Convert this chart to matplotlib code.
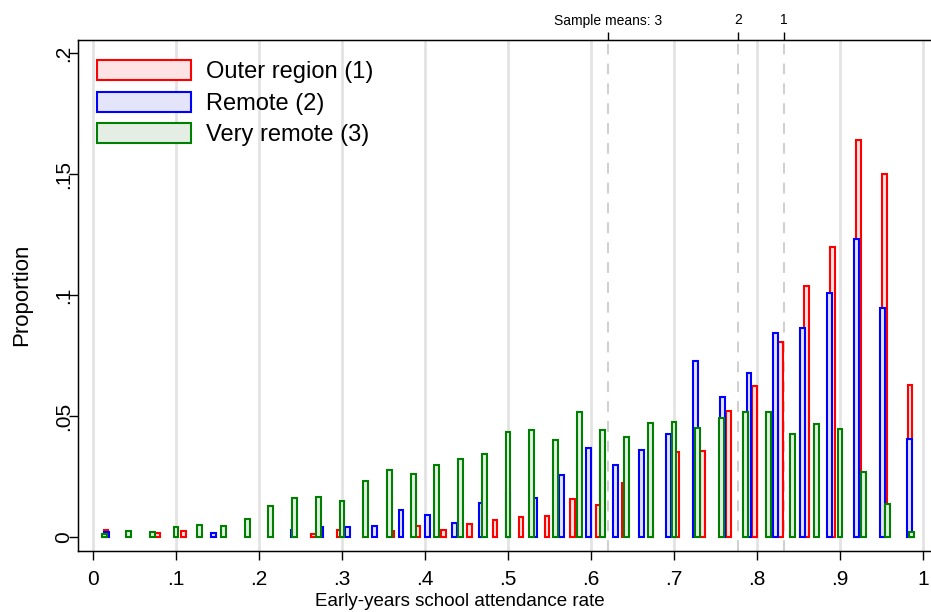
import numpy as np
import matplotlib
matplotlib.use("Agg")
import matplotlib.pyplot as plt
from matplotlib.patches import Patch

plt.rcParams['font.family'] = ['Liberation Sans', 'DejaVu Sans']

# ---- data (proportions per bin, bins spanning [0, 1]) ----
series_names = ["Outer region (1)", "Remote (2)", "Very remote (3)"]

outer_props = [0.0029, 0.0, 0.0015, 0.0023, 0.0, 0.0, 0.0, 0.0,
               0.0012, 0.0029, 0.0020, 0.0025, 0.0047, 0.0030, 0.0052, 0.0069,
               0.0081, 0.0085, 0.0158, 0.0134, 0.0224, 0.0300, 0.0353, 0.0355,
               0.0521, 0.0622, 0.0804, 0.1039, 0.1198, 0.1640, 0.1499, 0.0628]

remote_props = [0.0019, 0.0, 0.0, 0.0, 0.0015, 0.0, 0.0, 0.0029,
                0.0040, 0.0040, 0.0044, 0.0110, 0.0090, 0.0058, 0.0142, 0.0181,
                0.0162, 0.0257, 0.0368, 0.0296, 0.0361, 0.0426, 0.0729, 0.0580,
                0.0676, 0.0845, 0.0865, 0.1007, 0.1233, 0.0948, 0.0406]

very_remote_props = [0.0012, 0.0025, 0.0021, 0.0040, 0.0051, 0.0044, 0.0073,
                     0.0128, 0.0161, 0.0164, 0.0147, 0.0231, 0.0276, 0.0259,
                     0.0299, 0.0322, 0.0344, 0.0434, 0.0441, 0.0399, 0.0518,
                     0.0441, 0.0413, 0.0471, 0.0474, 0.0452, 0.0491, 0.0516,
                     0.0518, 0.0424, 0.0465, 0.0448, 0.0270, 0.0135, 0.0021]

sample_means = [0.620, 0.7775, 0.8325]
mean_labels = ["Sample means: 3", "2", "1"]

x_ticks = [0, 0.1, 0.2, 0.3, 0.4, 0.5, 0.6, 0.7, 0.8, 0.9, 1.0]
x_tick_labels = ["0", ".1", ".2", ".3", ".4", ".5", ".6", ".7", ".8", ".9", "1"]
y_ticks = [0, 0.05, 0.10, 0.15, 0.20]
y_tick_labels = ["0", ".05", ".1", ".15", ".2"]

edge_colors = ["#ff0000", "#0000ff", "#008000"]
fill_colors = ["#fde3e3", "#e4e4fb", "#e4eee4"]

W, H = 931, 612
fig = plt.figure(figsize=(W / 100, H / 100), dpi=100)
left_px, right_px, top_px, bottom_px = 78, 931, 40, 551
ax = fig.add_axes([left_px / W, 1 - bottom_px / H,
                   (right_px - left_px) / W, (bottom_px - top_px) / H])

x0, x1 = -0.0181, 1.0096
y0, y1 = -0.00579, 0.2054
ax.set_xlim(x0, x1)
ax.set_ylim(y0, y1)

# grid lines
for t in x_ticks:
    ax.axvline(t, color="#e3e3e3", lw=2.0, zorder=0)
# sample mean lines
for m in sample_means:
    ax.axvline(m, color="#cccccc", lw=1.3, ls=(0, (6, 5)), zorder=0.5)

bar_w = 0.0058
for k, props in enumerate([outer_props, remote_props, very_remote_props]):
    props = np.asarray(props)
    n = len(props)
    centers = (np.arange(n) + 0.5) / n
    mask = props > 0
    ax.bar(centers[mask], props[mask], width=bar_w, facecolor=fill_colors[k],
           edgecolor=edge_colors[k], linewidth=1.5, zorder=2 + k)

ax.set_xticks(x_ticks)
ax.set_xticklabels(x_tick_labels)
ax.set_yticks(y_ticks)
ax.set_yticklabels(y_tick_labels, rotation=90, va="center")
ax.tick_params(axis="x", direction="out", length=6.5, width=1, labelsize=15, pad=7)
ax.tick_params(axis="y", direction="out", length=6.5, width=1, labelsize=15, pad=-3)
for s in ["left", "bottom", "top"]:
    ax.spines[s].set_linewidth(1.0)
ax.spines["right"].set_visible(False)

ax.set_xlabel("Early-years school attendance rate", fontsize=13.5)
ax.xaxis.set_label_coords((460 - left_px) / (right_px - left_px),
                          -(601 - bottom_px) / (bottom_px - top_px))
ax.xaxis.label.set_va("center")
ax.set_ylabel("Proportion", fontsize=16)
ax.yaxis.set_label_coords(-(left_px - 22) / (right_px - left_px),
                          (bottom_px - 295) / (bottom_px - top_px))
ax.yaxis.label.set_va("center")

# top axis with sample means
ax2 = ax.twiny()
ax2.set_xlim(x0, x1)
ax2.set_xticks(sample_means)
ax2.set_xticklabels(mean_labels)
ax2.tick_params(axis="x", direction="out", length=6, width=1, labelsize=10, pad=3)
ax2.spines["right"].set_visible(False)

handles = [Patch(facecolor=fill_colors[k], edgecolor=edge_colors[k], linewidth=1.5)
           for k in range(3)]
leg = ax.legend(handles, series_names, loc="upper left",
                bbox_to_anchor=((97 - left_px) / (right_px - left_px),
                                (bottom_px - 60) / (bottom_px - top_px)),
                frameon=False, fontsize=17, handlelength=4.0, handleheight=0.95,
                labelspacing=0.35, handletextpad=0.6, borderpad=0, borderaxespad=0)

fig.savefig("out.png", dpi=100)
